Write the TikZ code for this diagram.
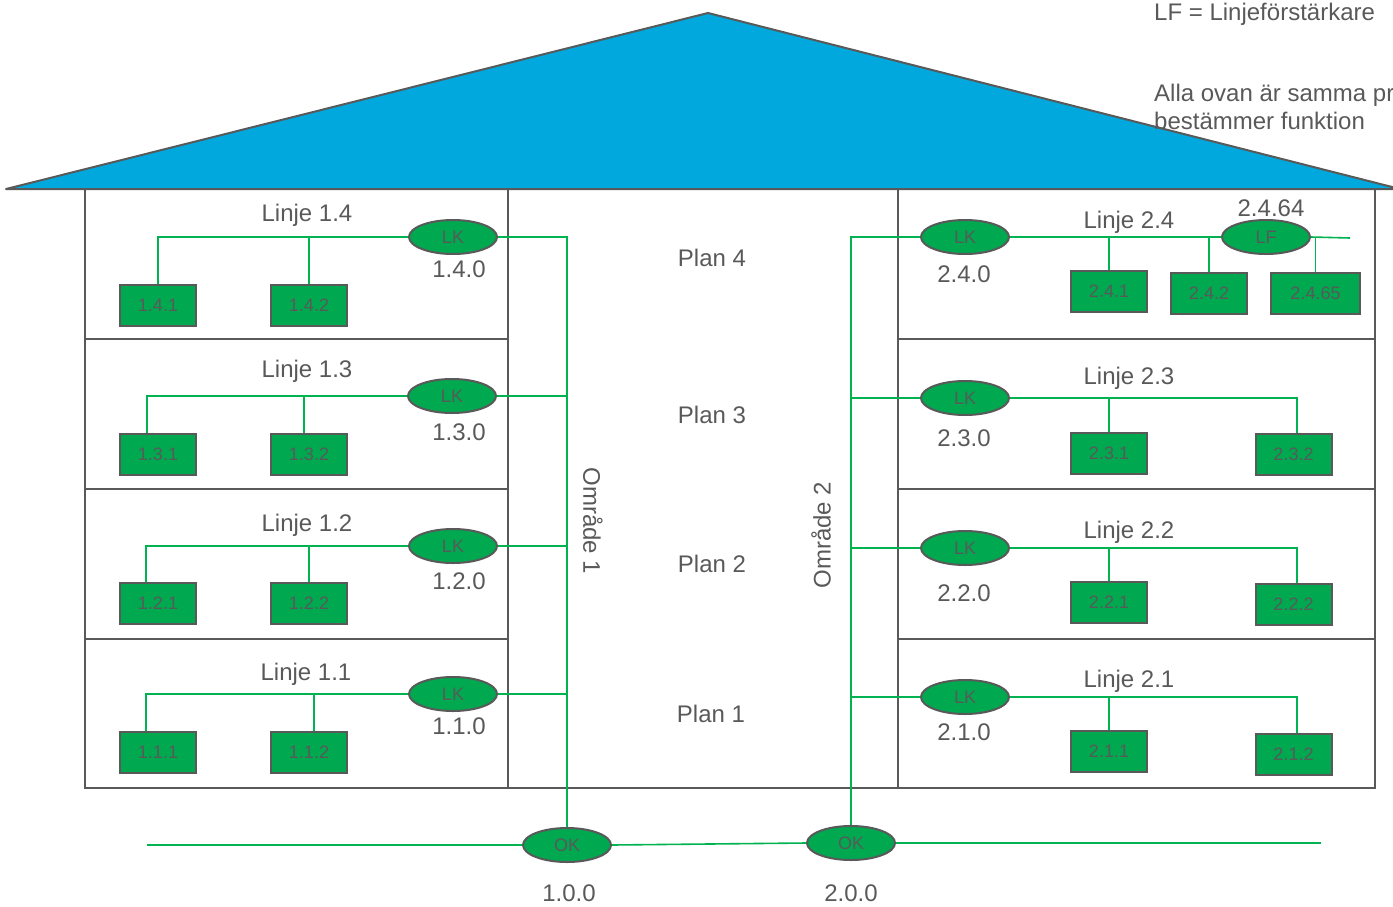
\documentclass[tikz,border=0pt]{standalone}
\usepackage{fontspec}
\setmainfont{Liberation Sans}
\usetikzlibrary{shapes.geometric}
\definecolor{grn}{RGB}{0,168,80}
\definecolor{lgrn}{RGB}{0,178,80}
\definecolor{gry}{RGB}{89,89,89}
\definecolor{roofblue}{RGB}{0,168,222}
\begin{document}
\begin{tikzpicture}[x=1pt,y=-1pt,
  wall/.style={draw=gry,line width=2pt},
  bus/.style={draw=lgrn,line width=1.6pt},
  dev/.style={rectangle,draw=gry,fill=grn,line width=2pt,minimum width=76pt,minimum height=41pt,inner sep=0pt,text=gry,font=\fontsize{18}{18}\selectfont},
  coupler/.style={ellipse,draw=gry,fill=grn,line width=2pt,minimum width=88pt,minimum height=34pt,inner sep=0pt,text=gry,font=\fontsize{18}{18}\selectfont},
  lbl/.style={text=gry,font=\fontsize{24}{24}\selectfont,inner sep=0pt,anchor=base},
  note/.style={text=gry,font=\fontsize{24}{24}\selectfont,inner sep=0pt,anchor=base west},
]
\useasboundingbox (0,0) rectangle (1393,906);
% roof
\draw[wall,fill=roofblue,line join=round] (6,189) -- (708,13) -- (1400,189) -- cycle;
% house walls
\draw[wall] (85,189) rectangle (508,339);
\draw[wall] (85,339) rectangle (508,489);
\draw[wall] (85,489) rectangle (508,639);
\draw[wall] (85,639) rectangle (508,788);
\draw[wall] (508,189) rectangle (898,788);
\draw[wall] (898,189) rectangle (1375,339);
\draw[wall] (898,339) rectangle (1375,489);
\draw[wall] (898,489) rectangle (1375,639);
\draw[wall] (898,639) rectangle (1375,788);

% couplers
\node[coupler] (lk14) at (453,237) {LK};
\node[coupler] (lk13) at (452,396) {LK};
\node[coupler] (lk12) at (453,546) {LK};
\node[coupler] (lk11) at (453,694) {LK};
\node[coupler] (lk24) at (965,237) {LK};
\node[coupler] (lf)   at (1266,237) {LF};
\node[coupler] (lk23) at (965,398) {LK};
\node[coupler] (lk22) at (965,548) {LK};
\node[coupler] (lk21) at (965,697) {LK};
\node[coupler] (ok1) at (567,845) {OK};
\node[coupler] (ok2) at (851,843) {OK};

% devices
\node[dev] (d141) at (158,305.5) {1.4.1};
\node[dev] (d142) at (309,305.5) {1.4.2};
\node[dev] (d131) at (158,454.5) {1.3.1};
\node[dev] (d132) at (309,454.5) {1.3.2};
\node[dev] (d121) at (158,603) {1.2.1};
\node[dev] (d122) at (309,603) {1.2.2};
\node[dev] (d111) at (158,752.5) {1.1.1};
\node[dev] (d112) at (309,752.5) {1.1.2};
\node[dev] (d241) at (1109,291.5) {2.4.1};
\node[dev] (d242) at (1209,293.5) {2.4.2};
\node[dev,minimum width=89pt] (d2465) at (1315.5,293.5) {2.4.65};
\node[dev] (d231) at (1109,453.5) {2.3.1};
\node[dev] (d232) at (1293.5,454.5) {2.3.2};
\node[dev] (d221) at (1109,602.5) {2.2.1};
\node[dev] (d222) at (1293.5,604.5) {2.2.2};
\node[dev] (d211) at (1109,751.5) {2.1.1};
\node[dev] (d212) at (1293.5,754.5) {2.1.2};

\coordinate (lfend) at (1350,238);
\coordinate (bl) at (147,845);
\coordinate (br) at (1321,843);

% left lines
\draw[bus] (lk14.west) -| (d141.north);
\draw[bus] (d142.north |- lk14.west) -- (d142.north);
\draw[bus] (lk13.west) -| ([xshift=-11pt]d131.north);
\draw[bus] ([xshift=-5pt]d132.north |- lk13.west) -- ([xshift=-5pt]d132.north);
\draw[bus] (lk12.west) -| ([xshift=-12pt]d121.north);
\draw[bus] (d122.north |- lk12.west) -- (d122.north);
\draw[bus] (lk11.west) -| ([xshift=-12pt]d111.north);
\draw[bus] ([xshift=5pt]d112.north |- lk11.west) -- ([xshift=5pt]d112.north);
% area 1 backbone
\draw[bus] (lk14.east) -- (lk14.east -| ok1.north) -- (ok1.north);
\draw[bus] (lk13.east) -- (lk13.east -| ok1.north);
\draw[bus] (lk12.east) -- (lk12.east -| ok1.north);
\draw[bus] (lk11.east) -- (lk11.east -| ok1.north);

% right lines
\draw[bus] (lk24.east) -- (lf.west);
\draw[bus] (lf.east) -- (lfend);
\draw[bus] (d241.north |- lk24.east) -- (d241.north);
\draw[bus] (d242.north |- lk24.east) -- (d242.north);
\draw[bus] (d2465.north |- lfend) -- (d2465.north);
\draw[bus] (lk23.east) -| ([xshift=3.5pt]d232.north);
\draw[bus] (d231.north |- lk23.east) -- (d231.north);
\draw[bus] (lk22.east) -| ([xshift=3.5pt]d222.north);
\draw[bus] (d221.north |- lk22.east) -- (d221.north);
\draw[bus] (lk21.east) -| ([xshift=3.5pt]d212.north);
\draw[bus] (d211.north |- lk21.east) -- (d211.north);
% area 2 backbone
\draw[bus] (lk24.west) -- (lk24.west -| ok2.north) -- (ok2.north);
\draw[bus] (lk23.west) -- (lk23.west -| ok2.north);
\draw[bus] (lk22.west) -- (lk22.west -| ok2.north);
\draw[bus] (lk21.west) -- (lk21.west -| ok2.north);

% main line
\draw[bus] (bl) -- (ok1.west);
\draw[bus] (ok1.east) -- (ok2.west);
\draw[bus] (ok2.east) -- (br);

% labels
\node[lbl] (t14) at (307,221) {Linje 1.4};
\node[lbl] (t13) at (307,377) {Linje 1.3};
\node[lbl] (t12) at (307,531) {Linje 1.2};
\node[lbl] (t11) at (306,680) {Linje 1.1};
\node[lbl] (a140) at (459,277) {1.4.0};
\node[lbl] (a130) at (459,440) {1.3.0};
\node[lbl] (a120) at (459,589) {1.2.0};
\node[lbl] (a110) at (459,734) {1.1.0};
\node[lbl] (p4) at (712,266) {Plan 4};
\node[lbl] (p3) at (712,423) {Plan 3};
\node[lbl] (p2) at (712,572) {Plan 2};
\node[lbl] (p1) at (711,722) {Plan 1};
\node[lbl] (t24) at (1129,228) {Linje 2.4};
\node[lbl] (a2464) at (1271,216) {2.4.64};
\node[lbl] (a240) at (964,282) {2.4.0};
\node[lbl] (t23) at (1129,384) {Linje 2.3};
\node[lbl] (a230) at (964,446) {2.3.0};
\node[lbl] (t22) at (1129,538) {Linje 2.2};
\node[lbl] (a220) at (964,601) {2.2.0};
\node[lbl] (t21) at (1129,687) {Linje 2.1};
\node[lbl] (a210) at (964,740) {2.1.0};
\node[lbl] (a100) at (569,901) {1.0.0};
\node[lbl] (a200) at (851,901) {2.0.0};
\node[lbl,anchor=center,rotate=-90] (o1) at (593,521) {Område 1};
\node[lbl,anchor=center,rotate=90] (o2) at (821,535) {Område 2};
\node[note] (n1) at (1154,20) {LF = Linjeförstärkare};
\node[note] (n2) at (1154,101) {Alla ovan är samma pr};
\node[note] (n3) at (1154,129) {bestämmer funktion};
\end{tikzpicture}
\end{document}
